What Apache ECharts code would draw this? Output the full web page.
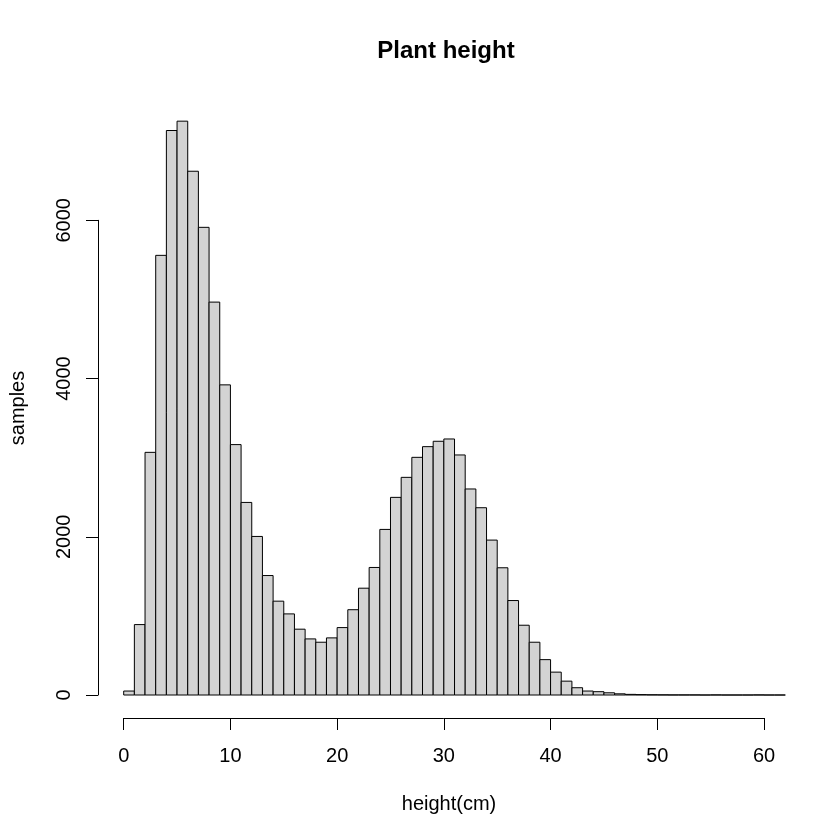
<!DOCTYPE html>
<html>
<head>
<meta charset="utf-8">
<script src="https://cdn.jsdelivr.net/npm/echarts@6/dist/echarts.min.js"></script>
<style>
  html, body { margin: 0; padding: 0; background: #fff; }
  #chart { width: 840px; height: 840px; }
</style>
</head>
<body>
<div id="chart"></div>
<script>
	// histogram bins: lower edge of each 1 cm bin and its count
	var binStart = [0,1,2,3,4,5,6,7,8,9,10,11,12,13,14,15,16,17,18,19,20,21,22,23,24,25,26,27,28,29,30,31,32,33,34,35,36,37,38,39,40,41,42,43,44,45,46,47,48,49,50,51,52,53,54,55,56,57,58,59,60,61];
	var counts = [50,890,3067,5557,7135,7253,6620,5911,4966,3920,3165,2434,2004,1510,1186,1025,832,709,667,722,852,1078,1350,1612,2093,2498,2751,3004,3139,3207,3236,3034,2604,2367,1958,1608,1194,882,667,447,289,175,92,50,42,28,15,8,5,3,2,1,1,1,0,1,0,0,0,1,0,0];
	var xTicks = [0,10,20,30,40,50,60];
	var yTicks = [0,2000,4000,6000];

	var binWidth = 1;
	var bars = [];
	for (var i = 0; i < binStart.length; i++) {
		bars.push([binStart[i], counts[i]]);
	}

	var font = 'Liberation Sans, Arial, sans-serif';
	var myEchart = echarts.init(document.getElementById('chart'));
	var option = {
		animation: false,
		backgroundColor: '#fff',
		title: {
			text: 'Plant height',
			left: 441,
			textAlign: 'center',
			top: 34,
			textStyle: { fontFamily: font, fontSize: 24, fontWeight: 'bold', color: '#000' }
		},
		grid: [
			// plot region (only carries the axis titles)
			{ left: 98, right: 50, top: 98, bottom: 122 },
			// axes span only the tick range, bars drawn on these scales
			{ left: 123.7, right: 76, top: 220.3, bottom: 145 }
		],
		xAxis: [
			{
				gridIndex: 0, type: 'value', min: -2.41, max: 62.43,
				axisLine: { show: false }, axisTick: { show: false },
				axisLabel: { show: false }, splitLine: { show: false },
				name: 'height(cm)', nameLocation: 'middle', nameGap: 76,
				nameTextStyle: { fontFamily: font, fontSize: 20, color: '#000' }
			},
			{
				gridIndex: 1, type: 'value', min: xTicks[0], max: xTicks[xTicks.length - 1],
				interval: 10, position: 'bottom', offset: 23,
				axisLine: { show: true, onZero: false, lineStyle: { color: '#000', width: 1 } },
				axisTick: { show: true, length: 12, lineStyle: { color: '#000' } },
				axisLabel: { margin: 28, fontFamily: font, fontSize: 20, color: '#000',
					showMinLabel: true, showMaxLabel: true },
				splitLine: { show: false }
			}
		],
		yAxis: [
			{
				gridIndex: 0, type: 'value', min: -290, max: 7543,
				axisLine: { show: false }, axisTick: { show: false },
				axisLabel: { show: false }, splitLine: { show: false },
				name: 'samples', nameLocation: 'middle', nameGap: 80, nameRotate: 90,
				nameTextStyle: { fontFamily: font, fontSize: 20, color: '#000' }
			},
			{
				gridIndex: 1, type: 'value', min: yTicks[0], max: yTicks[yTicks.length - 1],
				interval: 2000, position: 'left', offset: 25.7,
				axisLine: { show: true, onZero: false, lineStyle: { color: '#000', width: 1 } },
				axisTick: { show: true, length: 12, lineStyle: { color: '#000' } },
				axisLabel: { margin: 24, rotate: 90, fontFamily: font, fontSize: 20, color: '#000',
					showMinLabel: true, showMaxLabel: true,
					formatter: function (v) { return String(v); } },
				splitLine: { show: false }
			}
		],
		series: [{
			name: 'samples',
			type: 'custom',
			xAxisIndex: 1,
			yAxisIndex: 1,
			clip: false,
			data: bars,
			renderItem: function (params, api) {
				var x = api.value(0);
				var p0 = api.coord([x, 0]);
				var p1 = api.coord([x + binWidth, api.value(1)]);
				return {
					type: 'rect',
					shape: { x: p0[0], y: p1[1], width: p1[0] - p0[0], height: p0[1] - p1[1] },
					style: { fill: '#D3D3D3', stroke: '#000', lineWidth: 1 }
				};
			}
		}]
	};
	myEchart.setOption(option);
</script>
</body>
</html>
